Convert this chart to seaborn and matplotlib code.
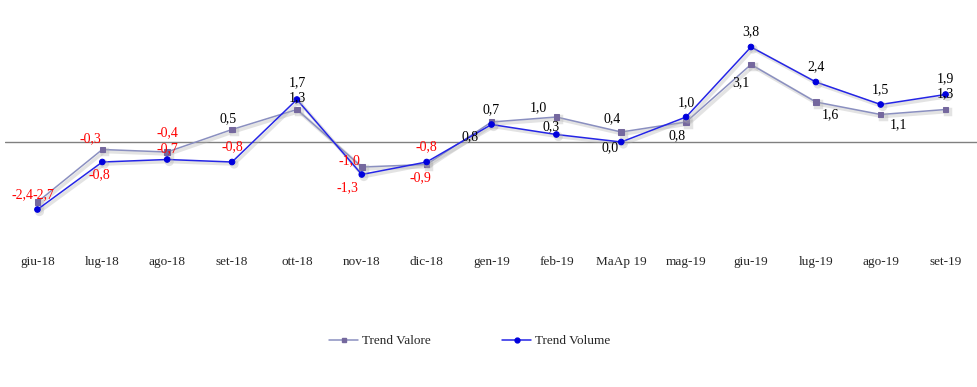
import numpy as np
import pandas as pd
import seaborn as sns
import matplotlib.pyplot as plt
import matplotlib.patheffects as pe
from matplotlib.lines import Line2D

# data
mesi = ['giu-18', 'lug-18', 'ago-18', 'set-18', 'ott-18', 'nov-18', 'dic-18', 'gen-19',
        'feb-19', 'MaAp 19', 'mag-19', 'giu-19', 'lug-19', 'ago-19', 'set-19']
trend_valore = [-2.4, -0.3, -0.4, 0.5, 1.3, -1.0, -0.9, 0.8, 1.0, 0.4, 0.8, 3.1, 1.6, 1.1, 1.3]
trend_volume = [-2.7, -0.8, -0.7, -0.8, 1.7, -1.3, -0.8, 0.7, 0.3, 0.0, 1.0, 3.8, 2.4, 1.5, 1.9]

# label offsets in pixels (style only)
off_valore = [(-15, 7), (-12, 11), (0, 19), (-4, 11), (0, 12), (-12, 6), (-6, -13), (-21, -15),
              (-18, 9), (-9, 13), (-9, -14), (-10, -18), (15, -13), (18, -10), (0, 16)]
off_volume = [(6, 15), (-3, -13), (0, 11), (0, 15), (0, 17), (-14, -13), (0, 15), (0, 15),
              (-5, 8), (-11, -6), (0, 14), (0, 15), (0, 15), (0, 15), (0, 16)]

df = pd.DataFrame({'Mese': mesi, 'Trend Valore': trend_valore, 'Trend Volume': trend_volume})

sns.set_style('white')
plt.rcParams['font.family'] = ['Liberation Serif', 'DejaVu Serif']

fig = plt.figure(figsize=(9.78, 3.87), dpi=100)
ax = fig.add_axes([5 / 978, 1 - 242 / 387, 973 / 978, 200 / 387])

shadow = [pe.SimpleLineShadow(offset=(1.5, -1.5), shadow_color='#b0b0b0', alpha=0.35, linewidth=2.5),
          pe.Normal()]

col_val, mk_val = '#8a8fc0', '#75689e'
col_vol, mk_vol = '#2525e6', '#0000dd'

sns.lineplot(data=df, x='Mese', y='Trend Valore', sort=False, ax=ax, color=col_val, linewidth=1.1,
             marker='s', markersize=4, markerfacecolor=mk_val, markeredgecolor=mk_val,
             path_effects=shadow)
sns.lineplot(data=df, x='Mese', y='Trend Volume', sort=False, ax=ax, color=col_vol, linewidth=1.1,
             marker='o', markersize=4, markerfacecolor=mk_vol, markeredgecolor=mk_vol,
             path_effects=shadow)

ax.axhline(0, color='#808080', linewidth=1, zorder=0)

for vals, offs in [(trend_valore, off_valore), (trend_volume, off_volume)]:
    for i, (v, o) in enumerate(zip(vals, offs)):
        ax.annotate(f'{v:.1f}'.replace('.', ','), (i, v), xytext=o, textcoords='offset pixels',
                    ha='center', va='center', fontsize=10,
                    color='#ff0000' if v < 0 else '#000000')

ax.set_xlim(-0.5, len(mesi) - 0.5)
ax.set_ylim(-4, 4)
ax.set_yticks([])
ax.set_xlabel('')
ax.set_ylabel('')
ax.tick_params(axis='x', length=0, pad=10, labelsize=9.5)
for s in ax.spines.values():
    s.set_visible(False)

handles = [Line2D([], [], color=col_val, linewidth=1.1, marker='s', markersize=3.5,
                  markerfacecolor=mk_val, markeredgecolor=mk_val),
           Line2D([], [], color=col_vol, linewidth=1.1, marker='o', markersize=3.5,
                  markerfacecolor=mk_vol, markeredgecolor=mk_vol)]
fig.legend(handles, ['Trend Valore', 'Trend Volume'], loc='center',
           bbox_to_anchor=(470 / 978, 1 - 341 / 387), ncol=2, frameon=False,
           fontsize=9.5, columnspacing=5.4, handlelength=2.2, handletextpad=0.3)

fig.savefig('out.png', dpi=100)
